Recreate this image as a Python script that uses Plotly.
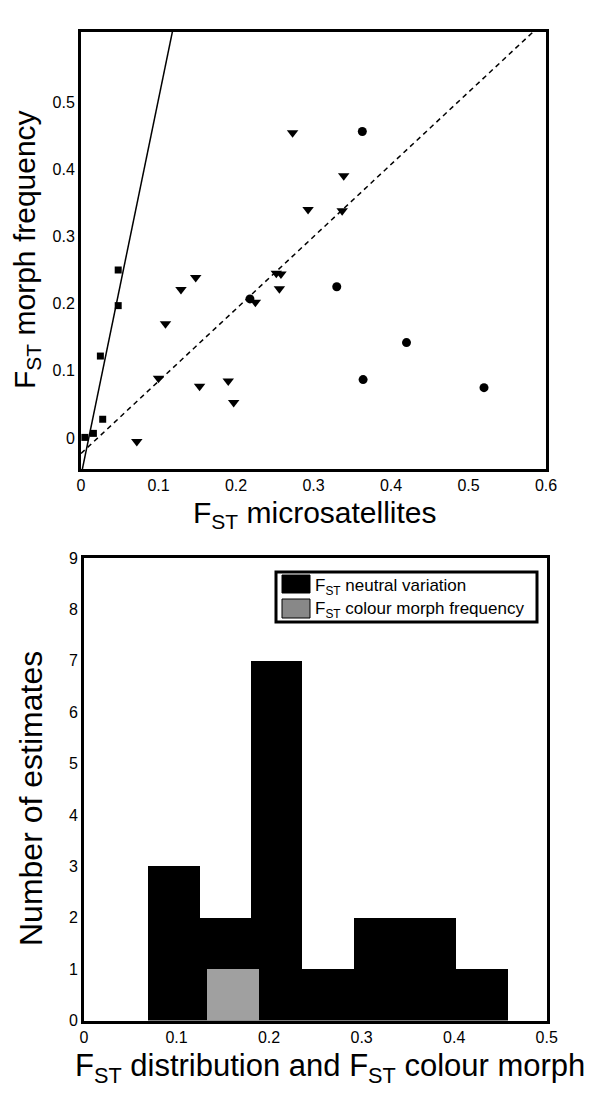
import plotly.graph_objects as go

# ---------------- data: top scatter ----------------
sq_x = [0.005, 0.016, 0.028, 0.025, 0.048, 0.048]
sq_y = [0.001, 0.007, 0.028, 0.122, 0.197, 0.250]

tri_x = [0.273, 0.339, 0.293, 0.337, 0.148, 0.129, 0.252, 0.258, 0.256, 0.225,
         0.109, 0.100, 0.153, 0.190, 0.197, 0.072]
tri_y = [0.454, 0.390, 0.340, 0.338, 0.239, 0.221, 0.245, 0.244, 0.222, 0.202,
         0.170, 0.089, 0.077, 0.085, 0.053, -0.005]

circ_x = [0.218, 0.330, 0.363, 0.364, 0.420, 0.520]
circ_y = [0.207, 0.225, 0.456, 0.087, 0.142, 0.075]

# regression lines: slope, intercept
solid_slope, solid_intercept = 5.6, -0.056
dash_slope, dash_intercept = 1.075, -0.023
line_x = [0.0, 0.6]

x_ticks_top = [0, 0.1, 0.2, 0.3, 0.4, 0.5, 0.6]
x_ticklabels_top = ["0", "0.1", "0.2", "0.3", "0.4", "0.5", "0.6"]
y_ticks_top = [0, 0.1, 0.2, 0.3, 0.4, 0.5]
y_ticklabels_top = ["0", "0.1", "0.2", "0.3", "0.4", "0.5"]

# ---------------- data: bottom histogram ----------------
neutral_centers = [0.0972, 0.1527, 0.2082, 0.2637, 0.3192, 0.3747, 0.4302]
neutral_counts = [3, 2, 7, 1, 2, 2, 1]
bin_width = 0.0555
morph_centers = [0.161]
morph_counts = [1]
morph_width = 0.057

x_ticks_bot = [0, 0.1, 0.2, 0.3, 0.4, 0.5]
x_ticklabels_bot = ["0", "0.1", "0.2", "0.3", "0.4", "0.5"]
y_ticks_bot = list(range(0, 10))
y_ticklabels_bot = [str(v) for v in y_ticks_bot]

FONT = "Liberation Sans, Arial, Helvetica, sans-serif"
W, H = 600, 1101
OFF = 8  # page body margin offset


def PX(x):
    return (x - OFF) / W


def PY(y):
    return 1 - (y - OFF) / H


fig = go.Figure()

# top scatter
fig.add_trace(go.Scatter(
    x=line_x, y=[solid_slope * v + solid_intercept for v in line_x],
    mode="lines", line=dict(color="black", width=1.5),
    xaxis="x", yaxis="y", showlegend=False))
fig.add_trace(go.Scatter(
    x=line_x, y=[dash_slope * v + dash_intercept for v in line_x],
    mode="lines", line=dict(color="black", width=1.5, dash="5px,4px"),
    xaxis="x", yaxis="y", showlegend=False))
fig.add_trace(go.Scatter(
    x=sq_x, y=sq_y, mode="markers",
    marker=dict(symbol="square", size=7, color="black", line=dict(width=0)),
    xaxis="x", yaxis="y", showlegend=False, cliponaxis=False))
fig.add_trace(go.Scatter(
    x=tri_x, y=tri_y, mode="markers",
    marker=dict(symbol="triangle-down", size=10, color="black", line=dict(width=0)),
    xaxis="x", yaxis="y", showlegend=False))
fig.add_trace(go.Scatter(
    x=circ_x, y=circ_y, mode="markers",
    marker=dict(symbol="circle", size=9, color="black", line=dict(width=0)),
    xaxis="x", yaxis="y", showlegend=False))

# bottom histogram
fig.add_trace(go.Bar(
    x=neutral_centers, y=neutral_counts, width=bin_width,
    marker=dict(color="black", line=dict(width=0)),
    xaxis="x2", yaxis="y2", showlegend=False))
fig.add_trace(go.Bar(
    x=morph_centers, y=morph_counts, width=morph_width,
    marker=dict(color="#a0a0a0", line=dict(width=0)),
    xaxis="x2", yaxis="y2", showlegend=False))

axis_common = dict(showline=True, linecolor="black", linewidth=3, mirror=True,
                   showgrid=False, zeroline=False, ticks="", automargin=False,
                   tickfont=dict(family=FONT, size=16, color="black"))

fig.update_layout(
    width=W, height=H, autosize=False,
    margin=dict(l=0, r=0, t=0, b=0, pad=0, autoexpand=False),
    paper_bgcolor="white", plot_bgcolor="white",
    barmode="overlay", bargap=0,
    xaxis=dict(domain=[PX(81), PX(546)], range=[0, 0.6], anchor="y",
               tickvals=x_ticks_top, ticktext=x_ticklabels_top, **axis_common),
    yaxis=dict(domain=[PY(469), PY(32)], range=[-0.046, 0.604], anchor="x",
               tickvals=y_ticks_top, ticktext=y_ticklabels_top, **axis_common),
    xaxis2=dict(domain=[PX(84), PX(546.7)], range=[0, 0.5], anchor="y2",
                tickvals=x_ticks_bot, ticktext=x_ticklabels_bot, **axis_common),
    yaxis2=dict(domain=[PY(1020.5), PY(558)], range=[0, 9], anchor="x2",
                tickvals=y_ticks_bot, ticktext=y_ticklabels_bot, **axis_common),
)

title_font = dict(family=FONT, size=30, color="black")
title_font_b = dict(family=FONT, size=31, color="black")
ann = [
    dict(text="F<sub>ST</sub> microsatellites", x=PX(315), y=PY(514),
         xanchor="center", yanchor="middle", font=title_font),
    dict(text="F<sub>ST</sub> morph frequency", x=PX(26), y=PY(250),
         xanchor="center", yanchor="middle", textangle=-90, font=title_font),
    dict(text="F<sub>ST</sub> distribution and F<sub>ST</sub> colour morph",
         x=PX(330), y=PY(1068), xanchor="center", yanchor="middle", font=title_font_b),
    dict(text="Number of estimates", x=PX(31), y=PY(799),
         xanchor="center", yanchor="middle", textangle=-90,
         font=dict(family=FONT, size=32, color="black")),
    dict(text="F<sub>ST</sub> neutral variation", x=PX(313), y=PY(586.7),
         xanchor="left", yanchor="middle", font=dict(family=FONT, size=17, color="black")),
    dict(text="F<sub>ST</sub> colour morph frequency", x=PX(313), y=PY(610),
         xanchor="left", yanchor="middle", font=dict(family=FONT, size=17, color="black")),
]
for a in ann:
    a.update(xref="paper", yref="paper", showarrow=False)
fig.update_layout(annotations=ann)

shapes = [
    dict(type="rect", x0=PX(276), x1=PX(537), y0=PY(622), y1=PY(572),
         line=dict(color="black", width=3), fillcolor="white", layer="above"),
    dict(type="rect", x0=PX(282), x1=PX(310), y0=PY(593), y1=PY(575),
         line=dict(color="black", width=1), fillcolor="black", layer="above"),
    dict(type="rect", x0=PX(282), x1=PX(310), y0=PY(618), y1=PY(599),
         line=dict(color="black", width=1), fillcolor="#888888", layer="above"),
]
for s in shapes:
    s.update(xref="paper", yref="paper")
fig.update_layout(shapes=shapes)

fig.write_html("out.html", config={"responsive": False})
